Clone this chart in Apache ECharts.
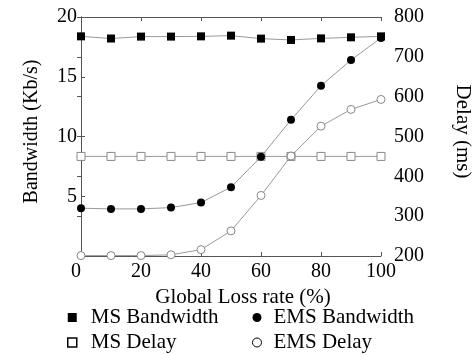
<!DOCTYPE html>
<html>
<head>
<meta charset="utf-8">
<script src="https://cdn.jsdelivr.net/npm/echarts@6/dist/echarts.min.js"></script>
<style>
  html, body { margin: 0; padding: 0; background: #fff; }
  #chart { width: 474px; height: 355px; }
</style>
</head>
<body>
<div id="chart"></div>
<script>
var lossRate = [0, 10, 20, 30, 40, 50, 60, 70, 80, 90, 100];
var msBandwidth = [18.38, 18.2, 18.36, 18.36, 18.38, 18.44, 18.19, 18.08, 18.21, 18.3, 18.38];
var emsBandwidth = [4.0, 3.94, 3.94, 4.05, 4.47, 5.76, 8.3, 11.4, 14.25, 16.4, 18.25];
var msDelay = [450, 450, 450, 450, 450, 450, 450, 450, 450, 450, 450];
var emsDelay = [201, 201, 201, 203, 216, 263, 352, 451, 526, 568, 593];

function pairs(ys) {
    return lossRate.map(function (x, i) { return [x, ys[i]]; });
}

var font = 'Liberation Serif';
var axisColor = '#555';
var lineColor = '#999';

var myChart = echarts.init(document.getElementById('chart'));

var option = {
    backgroundColor: '#fff',
    animation: false,
    textStyle: { fontFamily: font, color: '#000' },
    grid: { left: 81, right: 93, top: 17, bottom: 99, outerBoundsMode: 'none' },
    legend: [{
        orient: 'vertical',
        left: 67,
        top: 307,
        padding: 0,
        itemWidth: 9,
        itemHeight: 9,
        itemGap: 4,
        textStyle: { fontFamily: font, fontSize: 21, color: '#000', padding: [0, 0, 0, 9] },
        data: [
            { name: 'MS Bandwidth', icon: 'rect', itemStyle: { color: '#000', borderWidth: 0 } },
            { name: 'MS Delay', icon: 'rect', itemStyle: { color: '#fff', borderColor: '#000', borderWidth: 1.5 } }
        ]
    }, {
        orient: 'vertical',
        left: 252,
        top: 307,
        padding: 0,
        itemWidth: 9,
        itemHeight: 9,
        itemGap: 4,
        textStyle: { fontFamily: font, fontSize: 21, color: '#000', padding: [0, 0, 0, 7] },
        data: [
            { name: 'EMS Bandwidth', icon: 'circle', itemStyle: { color: '#000', borderWidth: 0 } },
            { name: 'EMS Delay', icon: 'circle', itemStyle: { color: '#fff', borderColor: '#000', borderWidth: 1 } }
        ]
    }],
    xAxis: [{
        type: 'value',
        min: 0,
        max: 100,
        interval: 20,
        position: 'bottom',
        name: 'Global Loss rate (%)',
        nameLocation: 'middle',
        nameGap: 22,
        nameTextStyle: { fontFamily: font, fontSize: 21, color: '#000', padding: [0, 0, 0, 24] },
        axisLine: { lineStyle: { color: axisColor } },
        axisTick: { inside: true, length: 4, lineStyle: { color: axisColor } },
        axisLabel: { fontFamily: font, fontSize: 20, color: '#000', margin: 6, alignMinLabel: 'right' },
        splitLine: { show: false }
    }, {
        type: 'value',
        min: 0,
        max: 100,
        interval: 20,
        position: 'top',
        axisLine: { lineStyle: { color: axisColor } },
        axisTick: { inside: true, length: 4, lineStyle: { color: axisColor } },
        axisLabel: { show: false },
        splitLine: { show: false }
    }],
    yAxis: [{
        type: 'value',
        min: 0,
        max: 20,
        interval: 5,
        position: 'left',
        name: 'Bandwidth (Kb/s)',
        nameLocation: 'middle',
        nameRotate: 90,
        nameGap: 39,
        nameTextStyle: { fontFamily: font, fontSize: 20, color: '#000', padding: [0, 0, 0, 10] },
        axisLine: { show: true, lineStyle: { color: axisColor } },
        axisTick: { show: true, inside: true, length: 4, lineStyle: { color: axisColor } },
        axisLabel: { fontFamily: font, fontSize: 20, color: '#000', margin: 4, showMinLabel: false },
        splitLine: { show: false }
    }, {
        type: 'value',
        min: 200,
        max: 800,
        interval: 100,
        position: 'right',
        name: 'Delay (ms)',
        nameLocation: 'middle',
        nameRotate: -90,
        nameGap: 71,
        nameTextStyle: { fontFamily: font, fontSize: 21, color: '#000', padding: [0, 10, 0, 0] },
        axisLine: { show: true, lineStyle: { color: axisColor } },
        axisTick: { show: true, inside: true, length: 4, lineStyle: { color: axisColor } },
        axisLabel: { fontFamily: font, fontSize: 20, color: '#000', margin: 13 },
        splitLine: { show: false }
    }],
    series: [{
        name: 'MS Delay',
        type: 'line',
        yAxisIndex: 1,
        symbol: 'rect',
        symbolSize: 8,
        lineStyle: { color: lineColor, width: 1 },
        itemStyle: { color: '#fff', borderColor: '#888', borderWidth: 1 },
        data: pairs(msDelay)
    }, {
        name: 'EMS Delay',
        type: 'line',
        yAxisIndex: 1,
        symbol: 'circle',
        symbolSize: 8,
        lineStyle: { color: lineColor, width: 1 },
        itemStyle: { color: '#fff', borderColor: '#888', borderWidth: 1 },
        data: pairs(emsDelay)
    }, {
        name: 'MS Bandwidth',
        type: 'line',
        yAxisIndex: 0,
        symbol: 'rect',
        symbolSize: 8,
        lineStyle: { color: lineColor, width: 1 },
        itemStyle: { color: '#000' },
        data: pairs(msBandwidth)
    }, {
        name: 'EMS Bandwidth',
        type: 'line',
        yAxisIndex: 0,
        symbol: 'circle',
        symbolSize: 8,
        lineStyle: { color: lineColor, width: 1 },
        itemStyle: { color: '#000' },
        data: pairs(emsBandwidth)
    }]
};

myChart.setOption(option);
</script>
</body>
</html>
